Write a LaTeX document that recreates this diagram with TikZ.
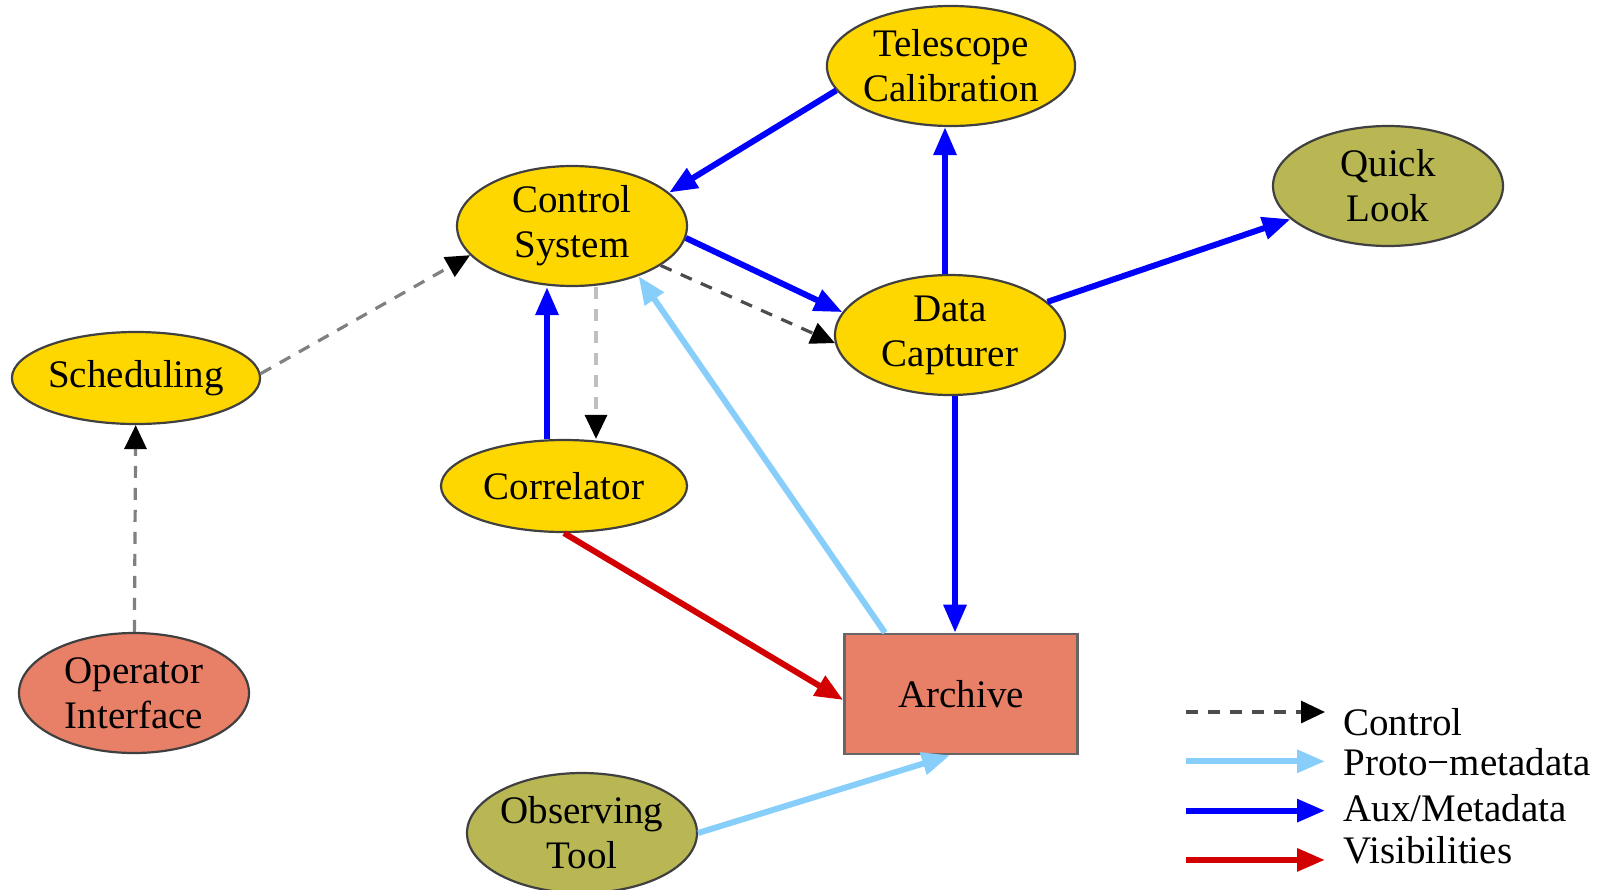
\documentclass[tikz,border=0pt]{standalone}
\usepackage{fontspec}
\setmainfont{Liberation Serif}
\usetikzlibrary{arrows.meta,shapes.geometric}

\definecolor{capgold}{HTML}{FFD700}
\definecolor{lookolive}{HTML}{B8B754}
\definecolor{archsalmon}{HTML}{E88068}
\definecolor{protoblue}{HTML}{87CEFA}
\definecolor{visred}{HTML}{D20000}

\def\rowgap{49.3}
\def\txtsize{\fontsize{19.5}{22.5}\selectfont}

\begin{document}
\begin{tikzpicture}[x=0.5pt, y=-0.5pt,
  proc/.style={ellipse, draw=black!75, line width=1.1pt, fill=capgold,
    align=center, inner sep=0pt, font=\txtsize,
    minimum width=115pt, minimum height=60pt},
  wide/.style={proc, minimum width=123pt, minimum height=46pt},
  ext/.style={proc, fill=lookolive},
  user/.style={proc, fill=archsalmon},
  store/.style={rectangle, draw=black!60, line width=1.3pt, fill=archsalmon,
    font=\txtsize, minimum width=116.5pt, minimum height=60pt},
  ctrl/.style={draw=black!70, line width=1.6pt, dash pattern=on 6pt off 5pt,
    -{Triangle[length=12pt,width=11pt,black]}},
  proto/.style={draw=protoblue, line width=3pt,
    -{Triangle[length=14pt,width=11pt]}},
  aux/.style={draw=blue, line width=3pt,
    -{Triangle[length=14pt,width=11pt]}},
  vis/.style={draw=visred, line width=3pt,
    -{Triangle[length=14pt,width=11pt]}}]

  \useasboundingbox (0,0) rectangle (1610,889);

  % processes
  \node[proc] (tc) at (951,66) {Telescope\\Calibration};
  \node[proc] (cs) at (572,226) {Control\\System};
  \node[ext]  (ql) at (1388,186) {Quick\\Look};
  \node[proc] (dc) at (950,335) {Data\\Capturer};
  \node[wide] (sc) at (136,378) {Scheduling};
  \node[wide] (cr) at (564,486) {Correlator};
  \node[user] (oi) at (134,693) {Operator\\Interface};
  \node[store] (ar) at (961,694) {Archive};
  \node[ext]  (ot) at (582,833) {Observing\\Tool};

  % flows
  \draw[aux] (tc.192) -- (cs.19);
  \draw[aux] (cs.-6) -- (dc.168);
  \draw[ctrl] (cs.-24) -- (dc.184);
  \draw[aux] ([xshift=-2.5pt]dc.north) -- ([xshift=-2.5pt]dc.north |- tc.south);
  \draw[aux] (dc) -- (ql);
  \draw[aux] ([xshift=2.5pt]dc.south) -- ([xshift=2.5pt]dc.south |- ar.north);
  \draw[aux] ([xshift=-8.5pt]cr.north) -- ([xshift=-8.5pt]cr.north |- cs.south);
  \draw[ctrl, draw=black!25] ([xshift=12pt]cs.south) -- ([xshift=12pt]cs.south |- cr.north);
  \draw[ctrl, draw=black!50] (sc.2) -- (cs.196);
  \draw[ctrl, draw=black!50] (oi) -- (sc);
  \draw[vis] (cr.south) -- ([yshift=-3pt]ar.west);
  \draw[proto] ([xshift=-38pt]ar.north) -- (cs.-37);
  \draw[proto] (ot.east) -- ([xshift=-5.5pt]ar.south);

  % legend
  \foreach \st/\txt/\ty [count=\k] in {ctrl/Control/722, proto/{Proto−metadata}/762,
      aux/{Aux/Metadata}/808, vis/Visibilities/850}{
    \pgfmathsetmacro\ly{712+\rowgap*(\k-1)}
    \coordinate (la\k) at (1186,\ly);
    \coordinate (lb\k) at (1325,\ly);
    \draw[\st] (la\k) -- (lb\k);
    \node[anchor=west, inner sep=0pt, font=\txtsize] (lt\k) at (1343,\ty) {\txt};
  }

\end{tikzpicture}
\end{document}
